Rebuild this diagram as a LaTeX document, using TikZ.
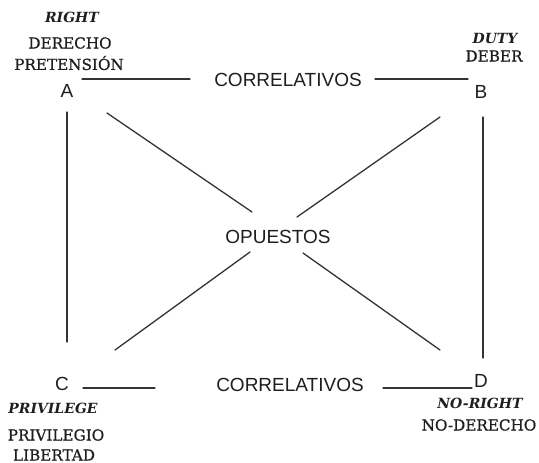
\documentclass[tikz,border=0pt]{standalone}
\usepackage{fontspec}
\setmainfont{DejaVu Serif}
\setsansfont{Liberation Sans}
\newfontfamily\slabfont[FakeBold=0.7]{DejaVu Serif}
\usepackage{tikz}
\definecolor{ink}{HTML}{1E1E1E}
\definecolor{rule}{HTML}{333333}
\tikzset{
  corner/.style={ink, font=\sffamily\fontsize{19}{19}\selectfont, inner sep=0pt},
  relname/.style={ink, font=\sffamily\fontsize{19}{19}\selectfont, inner sep=0pt},
  engterm/.style={ink, font=\bfseries\itshape\fontsize{14}{14}\selectfont, inner sep=0pt},
  esterm/.style={ink, font=\slabfont\fontsize{15.2}{15.2}\selectfont, inner sep=0pt},
  link/.style={rule, line width=1.3pt}
}

\begin{document}
\begin{tikzpicture}[x=1pt, y=-1pt, line cap=round]
  \useasboundingbox (0,0) rectangle (539,463);
  % corners of the square
  \node[corner] (A) at (67,91)  {A};
  \node[corner] (B) at (481,92) {B};
  \node[corner] (C) at (62,384) {C};
  \node[corner] (D) at (481,381) {D};
  % relation names
  \node[relname] (corTop) at (288,80)  {CORRELATIVOS};
  \node[relname] (corBot) at (290,385) {CORRELATIVOS};
  \node[relname] (opp)    at (278,237) {OPUESTOS};
  % terms next to each corner
  \node[engterm] (rightA) at (72,17)  {RIGHT};
  \node[esterm]  (derA)   at (70,43)  {DERECHO};
  \node[esterm]  (preA)   at (69,63)  {PRETENSIÓN};
  \node[engterm] (dutyB)  at (495,38) {DUTY};
  \node[esterm]  (debB)   at (494,56) {DEBER};
  \node[engterm] (privC)  at (53,408) {PRIVILEGE};
  \node[esterm]  (prvC)   at (56,435) {PRIVILEGIO};
  \node[esterm]  (libC)   at (54,455) {LIBERTAD};
  \node[engterm] (norD)   at (480,403) {NO-RIGHT};
  \node[esterm]  (nodD)   at (479,425) {NO-DERECHO};
  % line ends
  \coordinate (t1) at (82,79);   \coordinate (t2) at (190,79);
  \coordinate (t3) at (375,79);  \coordinate (t4) at (468,79);
  \coordinate (b1) at (83,388);  \coordinate (b2) at (155,388);
  \coordinate (b3) at (383,388); \coordinate (b4) at (472,388);
  \coordinate (l1) at (67,112);  \coordinate (l2) at (67,342);
  \coordinate (r1) at (483,117); \coordinate (r2) at (483,358);
  \coordinate (ad1) at (107,113); \coordinate (ad2) at (252,212);
  \coordinate (ad3) at (303,253); \coordinate (ad4) at (440,350);
  \coordinate (bc1) at (440,117); \coordinate (bc2) at (297,217);
  \coordinate (bc3) at (250,252); \coordinate (bc4) at (115,350);
  % correlatives
  \draw[link] (t1)--(t2);
  \draw[link] (t3)--(t4);
  \draw[link] (b1)--(b2);
  \draw[link] (b3)--(b4);
  % sides
  \draw[link] (l1)--(l2);
  \draw[link] (r1)--(r2);
  % opposites
  \foreach \p/\q in {ad1/ad2, ad3/ad4, bc1/bc2, bc3/bc4}{\draw[link] (\p)--(\q);}
\end{tikzpicture}
\end{document}
